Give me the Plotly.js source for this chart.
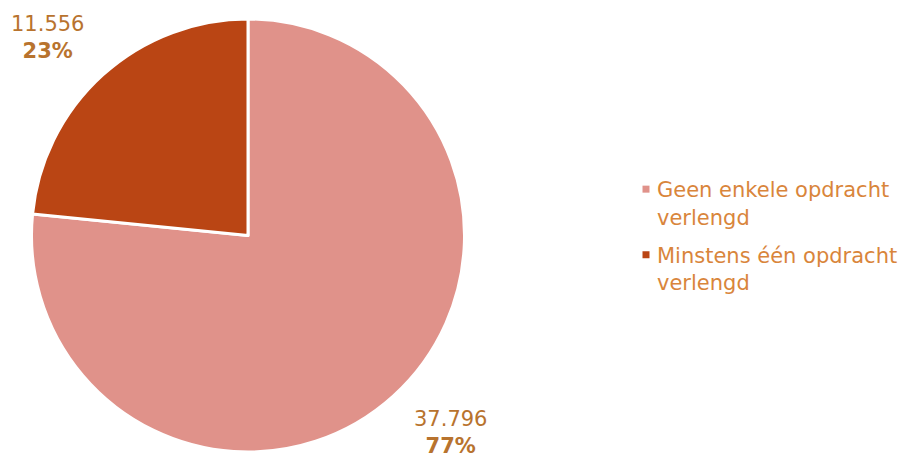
<!DOCTYPE html>
<html><head><meta charset="utf-8">
<script src="https://cdn.plot.ly/plotly-3.0.1.min.js"></script>
<style>html,body{margin:0;padding:0;background:#fff}</style>
</head><body>
<div id="chart" style="width:903px;height:458px"></div>
<script>
const categories = ["Geen enkele opdracht<br>verlengd", "Minstens één opdracht<br>verlengd"];
const values = [37796, 11556];
const valueLabels = ["37.796", "11.556"];
const percentLabels = ["77%", "23%"];
const colors = ["#E0928A", "#BA4514"];

const trace = {
  type: "pie",
  labels: categories,
  values: values,
  sort: false,
  direction: "clockwise",
  rotation: 0,
  marker: {colors: colors, line: {color: "#ffffff", width: 3}},
  textinfo: "none",
  hoverinfo: "label+value+percent",
  domain: {x: [31/903, 465/903], y: [6/458, 439/458]}
};

const labelFont = {family: "DejaVu Sans, Verdana, sans-serif", size: 21, color: "#B8732E"};
const annotations = [
  {x: 450/903, y: 1 - 432/458, text: valueLabels[0] + "<br><b>" + percentLabels[0] + "</b>"},
  {x: 47/903, y: 1 - 38/458, text: valueLabels[1] + "<br><b>" + percentLabels[1] + "</b>"}
].map(a => Object.assign({xref: "paper", yref: "paper", showarrow: false, font: labelFont, align: "center", xanchor: "center", yanchor: "middle"}, a));

const layout = {
  width: 903, height: 458,
  margin: {l: 0, r: 0, t: 0, b: 0},
  paper_bgcolor: "#ffffff",
  showlegend: true,
  legend: {
    x: 617/903, y: 1 - 169/458, xanchor: "left", yanchor: "top",
    font: {family: "DejaVu Sans, Verdana, sans-serif", size: 21, color: "#D9853B"},
    itemwidth: 30, valign: "top"
  },
  annotations: annotations
};

Plotly.newPlot("chart", [trace], layout, {displayModeBar: false, staticPlot: true}).then(() => {
  document.querySelectorAll(".legendpoints path").forEach(p => {
    p.setAttribute("d", "M3.5,3.5H-3.5V-3.5H3.5Z");
    p.setAttribute("transform", "translate(29,0)");
    p.style.strokeWidth = "0";
  });
  const items = document.querySelectorAll(".legend .traces");
  items.forEach((g, i) => {
    if (i === 0) return;
    const t = g.getAttribute("transform") || "";
    const m = t.match(/translate\(\s*([-\d.]+)[ ,]+([-\d.]+)\s*\)/);
    if (m) g.setAttribute("transform", "translate(" + m[1] + "," + (parseFloat(m[2]) + 8 * i) + ")");
  });
});
</script>
</body></html>
